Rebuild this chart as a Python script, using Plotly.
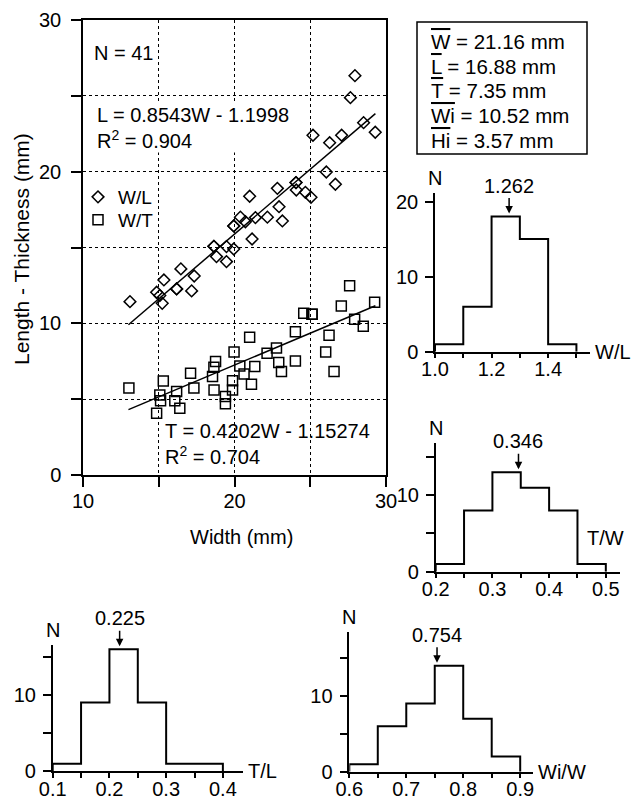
import numpy as np
import plotly.graph_objects as go

FONT = "Liberation Sans, Arial, Helvetica, sans-serif"

# ---------------- scatter data ----------------
WL_width = [13.1, 14.86, 15.07, 15.23, 15.34, 16.18, 16.18, 16.46, 17.17, 17.34,
            18.64, 18.64, 18.81, 19.47, 19.47, 19.95, 19.95, 19.95, 20.39, 20.72,
            21.0, 21.16, 21.38, 22.17, 22.83, 22.94, 23.16, 24.06, 24.06, 24.08,
            24.68, 25.05, 25.18, 26.06, 26.28, 26.66, 27.07, 27.65, 27.95, 28.52, 29.29]
WL_length = [11.43, 12.05, 11.83, 11.32, 12.86, 12.27, 12.27, 13.59, 12.14, 13.12,
             15.08, 15.08, 14.4, 15.06, 14.07, 14.9, 16.42, 16.42, 17.0, 16.7,
             18.38, 15.56, 16.97, 17.0, 18.9, 17.69, 16.75, 19.28, 19.28, 18.79,
             18.64, 18.31, 22.4, 19.98, 21.91, 19.17, 22.4, 24.88, 26.33, 23.23, 22.6]

WT_width = [13.03, 14.86, 15.07, 15.12, 15.3, 16.06, 16.18, 16.39, 17.1, 17.32,
            18.55, 18.64, 18.65, 18.75, 19.4, 19.4, 19.87, 19.87, 19.97, 20.35,
            20.63, 21.0, 21.12, 21.34, 22.15, 22.77, 22.92, 23.1, 24.02, 24.02,
            24.57, 25.12, 25.12, 26.02, 26.24, 26.57, 27.05, 27.6, 27.93, 28.5, 29.25]
WT_thick = [5.74, 4.07, 5.28, 4.9, 6.2, 4.9, 5.5, 4.4, 6.71, 5.74,
            6.49, 7.1, 5.61, 7.48, 5.17, 4.69, 6.22, 5.61, 8.11, 7.19,
            6.66, 9.08, 5.98, 7.15, 8.03, 8.38, 7.41, 6.82, 9.45, 7.52,
            10.67, 10.6, 10.6, 8.11, 9.21, 6.82, 11.15, 12.47, 10.27, 9.81, 11.39]

# regression fits (slope, intercept) and the width span of the fitted lines
FIT_L = (0.8543, -1.1998)
FIT_T = (0.4202, -1.15274)
FIT_SPAN = [13.0, 29.3]

SC_Y_MAJOR = [0, 10, 20, 30]
SC_Y_MINOR = [5, 15, 25]
SC_X_MAJOR = [10, 20, 30]
SC_X_MINOR = [15, 25]

STATS = [("W", "21.16"), ("L", "16.88"), ("T", "7.35"), ("Wi", "10.52"), ("Hi", "3.57")]

# ---------------- histogram data ----------------
WL_edges = [1.0, 1.1, 1.2, 1.3, 1.4, 1.5]
WL_counts = [1, 6, 18, 15, 1]
TW_edges = [0.2, 0.25, 0.3, 0.35, 0.4, 0.45, 0.5]
TW_counts = [1, 8, 13, 11, 8, 1]
TL_edges = [0.1, 0.15, 0.2, 0.25, 0.3, 0.35, 0.4]
TL_counts = [1, 9, 16, 9, 1, 1]
WiW_edges = [0.6, 0.65, 0.7, 0.75, 0.8, 0.85, 0.9]
WiW_counts = [1, 6, 9, 14, 7, 2]

HIST_MEAN_TEXT = ["1.262", "0.346", "0.225", "0.754"]
HIST_MEAN_POS = [1.262, 0.346, 0.218, 0.754]
HIST_NAMES = ["W/L", "T/W", "T/L", "Wi/W"]

# tick labels (major) and unlabeled tick marks (minor)
WL_xmaj, WL_xmin = [1.0, 1.2, 1.4], [1.1, 1.3, 1.5]
WL_ymaj, WL_ymin = [0, 10, 20], []
TW_xmaj, TW_xmin = [0.2, 0.3, 0.4, 0.5], [0.25, 0.35, 0.45]
TL_xmaj, TL_xmin = [0.1, 0.2, 0.3, 0.4], [0.15, 0.25, 0.35]
WiW_xmaj, WiW_xmin = [0.6, 0.7, 0.8, 0.9], [0.65, 0.75, 0.85]
N15_ymaj, N15_ymin = [0, 10], [5, 15]

W, H = 634, 800


def px(x):
    return x / W


def py(y):
    return 1 - y / H


def fmt1(v):
    return f"{v:.1f}"


fig = go.Figure()

# ---------------- scatter ----------------
fig.add_trace(go.Scatter(x=WL_width, y=WL_length, mode="markers", name="W/L",
                         legend="legend",
                         marker=dict(symbol="diamond-open", size=9, color="black",
                                     line=dict(width=1.5, color="black"))))
fig.add_trace(go.Scatter(x=WT_width, y=WT_thick, mode="markers", name="W/T",
                         legend="legend2",
                         marker=dict(symbol="square-open", size=10, color="black",
                                     line=dict(width=1.5, color="black"))))
fx = np.array(FIT_SPAN)
for a, b in (FIT_L, FIT_T):
    fig.add_trace(go.Scatter(x=fx, y=a * fx + b, mode="lines", showlegend=False,
                             line=dict(color="black", width=1.5), hoverinfo="skip"))

axis_common = dict(showline=True, linecolor="black", linewidth=1.5, zeroline=False,
                   ticks="outside", tickcolor="black", tickwidth=1.5, automargin=False,
                   tickfont=dict(family=FONT, size=20, color="black"))
grid = dict(showgrid=True, gridcolor="black", griddash="dot", gridwidth=1.3)

fig.update_layout(
    xaxis=dict(domain=[px(83), px(386)], range=[10, 30], anchor="y", mirror=True,
               tickmode="array", tickvals=SC_X_MAJOR, ticktext=[str(v) for v in SC_X_MAJOR],
               ticklen=10, ticklabelstandoff=-3,
               minor=dict(tickmode="array", tickvals=SC_X_MINOR, ticks="outside",
                          ticklen=10, tickwidth=1.5, tickcolor="black", **grid),
               **grid, **axis_common),
    yaxis=dict(domain=[py(475), py(20)], range=[0, 30], anchor="x", mirror=True,
               tickmode="array", tickvals=SC_Y_MAJOR, ticktext=[str(v) for v in SC_Y_MAJOR],
               ticklen=10, ticklabelstandoff=6,
               minor=dict(tickmode="array", tickvals=SC_Y_MINOR, ticks="outside",
                          ticklen=10, tickwidth=1.5, tickcolor="black", **grid),
               **grid, **axis_common),
)

annos = []
annos.append(dict(xref="x", yref="y", x=10.6, y=27.8, xanchor="left", yanchor="middle",
                  text="N = 41", showarrow=False, font=dict(family=FONT, size=20)))
annos.append(dict(xref="x", yref="y", x=10.85, y=22.9, xanchor="left", yanchor="middle",
                  align="left", bgcolor="white", borderpad=0,
                  text=f"L = {FIT_L[0]}W - {abs(FIT_L[1])}<br>R<sup>2</sup> = 0.904",
                  showarrow=False, font=dict(family=FONT, size=20)))
annos.append(dict(xref="x", yref="y", x=15.25, y=2.05, xanchor="left", yanchor="middle",
                  align="left",
                  text=f"T = {FIT_T[0]}W - {abs(FIT_T[1])}<br>R<sup>2</sup> = 0.704",
                  showarrow=False, font=dict(family=FONT, size=20)))
annos.append(dict(xref="paper", yref="paper", x=px(21), y=py(249), textangle=-90,
                  xanchor="center", yanchor="middle",
                  text="Length - Thickness (mm)", showarrow=False,
                  font=dict(family=FONT, size=21)))
annos.append(dict(xref="paper", yref="paper", x=px(241), y=py(537),
                  xanchor="center", yanchor="middle",
                  text="Width (mm)", showarrow=False, font=dict(family=FONT, size=20)))

# statistics box: frame + one line of text per mean value
shapes = [dict(type="rect", xref="paper", yref="paper", x0=px(417), x1=px(587),
               y0=py(154), y1=py(22), line=dict(color="black", width=1.5),
               fillcolor="white", layer="above")]
ov = '<span style="text-decoration:overline">{}</span>'
for j, (k, v) in enumerate(STATS):
    annos.append(dict(xref="paper", yref="paper", x=px(429), y=py(41.7 + 24.6 * j),
                      xanchor="left", yanchor="middle", align="left",
                      text=f"{ov.format(k)} = {v} mm", showarrow=False,
                      font=dict(family=FONT, size=20.5)))

# ---------------- histograms ----------------
hists = [
    (WL_edges, WL_counts, WL_xmaj, WL_xmin, WL_ymaj, WL_ymin,
     [px(435), px(590)], [py(351.7), py(193.3)], [1.0, 1.548], [0, 21.1], "end"),
    (TW_edges, TW_counts, TW_xmaj, TW_xmin, N15_ymaj, N15_ymin,
     [px(435.7), px(620)], [py(571.7), py(443.3)], [0.2, 0.525], [0, 16.8], "above"),
    (TL_edges, TL_counts, TL_xmaj, TL_xmin, N15_ymaj, N15_ymin,
     [px(52.7), px(243.3)], [py(771.3), py(645)], [0.1, 0.436], [0, 16.55], "end"),
    (WiW_edges, WiW_counts, WiW_xmaj, WiW_xmin, N15_ymaj, N15_ymin,
     [px(349.3), px(533.3)], [py(771.7), py(631.7)], [0.6, 0.923], [0, 18.5], "end"),
]

for i, (edges, counts, xmaj, xmin, ymaj, ymin, dx, dy, rx, ry, lblpos) in enumerate(hists):
    n = i + 2
    xa, ya = f"x{n}", f"y{n}"
    sx = [edges[0]] + list(edges)
    sy = [0] + list(counts) + [0]
    fig.add_trace(go.Scatter(x=sx, y=sy, mode="lines", line_shape="hv", showlegend=False,
                             line=dict(color="black", width=2), xaxis=xa, yaxis=ya,
                             hoverinfo="skip"))
    fig.layout[f"xaxis{n}"] = dict(
        domain=dx, range=rx, anchor=ya, tickmode="array", tickvals=xmaj,
        ticktext=[fmt1(v) for v in xmaj], ticklen=5, showgrid=False, ticklabelstandoff=-6,
        minor=dict(tickmode="array", tickvals=xmin, ticks="outside", ticklen=5,
                   tickwidth=1.5, tickcolor="black", showgrid=False),
        **axis_common)
    yaxis_def = dict(domain=dy, range=ry, anchor=xa, tickmode="array", tickvals=ymaj,
                     ticktext=[str(v) for v in ymaj], ticklen=8, showgrid=False,
                     ticklabelstandoff=3, **axis_common)
    if ymin:
        yaxis_def["minor"] = dict(tickmode="array", tickvals=ymin, ticks="outside",
                                  ticklen=8, tickwidth=1.5, tickcolor="black",
                                  showgrid=False)
    fig.layout[f"yaxis{n}"] = yaxis_def
    # N label on top of the y axis
    annos.append(dict(xref=xa, yref=ya, x=rx[0], y=ry[1], xanchor="center",
                      yanchor="middle", yshift=15,
                      text="N", showarrow=False, font=dict(family=FONT, size=20)))
    # mean arrow
    mx = HIST_MEAN_POS[i]
    k = int(np.clip(np.searchsorted(edges, mx, side="right") - 1, 0, len(counts) - 1))
    annos.append(dict(xref=xa, yref=ya, x=mx, y=counts[k], ax=0, ay=-31,
                      text=HIST_MEAN_TEXT[i], showarrow=True, arrowhead=2, arrowsize=1,
                      arrowwidth=1.5, arrowcolor="black", standoff=3,
                      font=dict(family=FONT, size=20)))
    # variable label
    if lblpos == "end":
        annos.append(dict(xref=xa, yref=ya, x=rx[1], y=0, xanchor="left", yanchor="middle",
                          xshift=3, text=HIST_NAMES[i], showarrow=False,
                          font=dict(family=FONT, size=20)))
    else:
        annos.append(dict(xref=xa, yref=ya, x=edges[-1], y=4.4, xanchor="center",
                          yanchor="middle", text=HIST_NAMES[i], showarrow=False,
                          font=dict(family=FONT, size=20)))

legend_common = dict(xanchor="left", yanchor="top", bgcolor="rgba(0,0,0,0)", borderwidth=0,
                     font=dict(family=FONT, size=19, color="black"), itemwidth=30)
fig.update_layout(
    width=W, height=H, margin=dict(l=0, r=0, t=0, b=0, autoexpand=False),
    paper_bgcolor="white", plot_bgcolor="white",
    font=dict(family=FONT, size=20, color="black"),
    annotations=annos, shapes=shapes,
    showlegend=True,
    legend=dict(x=px(78), y=py(178), **legend_common),
    legend2=dict(x=px(78), y=py(201), **legend_common),
)

fig.write_html("out.html", config={"displayModeBar": False},
               post_script="document.body.style.margin='0';document.body.style.padding='0';")
